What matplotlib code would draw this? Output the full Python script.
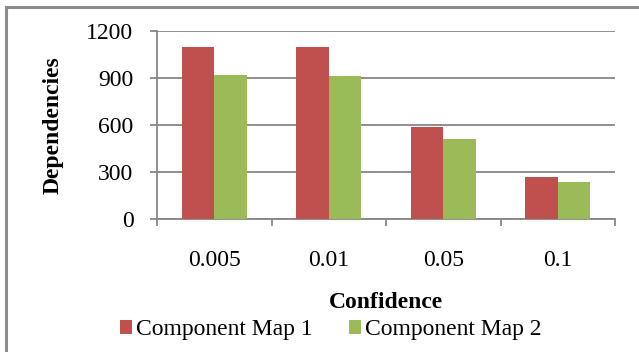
import matplotlib.pyplot as plt
import numpy as np
from matplotlib.patches import Rectangle

categories = ["0.005", "0.01", "0.05", "0.1"]
map1 = [1100, 1095, 585, 265]
map2 = [920, 915, 510, 235]
series_names = ["Component Map 1", "Component Map 2"]
colors = ["#C0504D", "#9BBB59"]

plt.rcParams['font.family'] = ['Liberation Serif', 'DejaVu Serif']

W, H = 639, 352
fig = plt.figure(figsize=(W / 100, H / 100), dpi=100)
ax = fig.add_axes([157 / W, 1 - 219 / H, (615 - 157) / W, (219 - 31) / H])

x = np.arange(len(categories))
bw = 1 / 3.5
b1 = ax.bar(x - bw / 2, map1, bw, color=colors[0], zorder=3, label=series_names[0])
b2 = ax.bar(x + bw / 2, map2, bw, color=colors[1], zorder=3, label=series_names[1])

grid_c = "#868686"
ax.set_xlim(-0.5, len(categories) - 0.5)
ax.set_ylim(0, 1200)
ax.set_yticks(range(0, 1201, 300))
ax.yaxis.grid(True, color=grid_c, linewidth=1.3, zorder=0)
for s in ["top", "right"]:
    ax.spines[s].set_visible(False)
for s in ["left", "bottom"]:
    ax.spines[s].set_color(grid_c)
    ax.spines[s].set_linewidth(1.3)

fs = 17
ax.set_xticks(x)
ax.set_xticklabels(categories)
ax.set_xticks(np.arange(-0.5, len(categories)), minor=True)
ax.tick_params(axis="x", which="major", length=0, pad=22, labelsize=fs)
ax.tick_params(axis="x", which="minor", length=5, width=1.3, color=grid_c, direction="out")
ax.tick_params(axis="y", length=5, width=1.3, color=grid_c, direction="out", labelsize=fs, pad=12)

fig.text(386 / W, 1 - 303 / H, "Confidence", ha="center", va="center",
         fontsize=fs, fontweight="bold")
fig.text(53 / W, 1 - 125 / H, "Dependencies", ha="center", va="center",
         rotation=90, fontsize=fs, fontweight="bold")

fig.legend(handles=[b1, b2], loc="center", bbox_to_anchor=(331 / W, 1 - 330 / H),
           ncol=2, frameon=False, fontsize=fs, handlelength=0.5, handleheight=0.5,
           handletextpad=0.17, columnspacing=1.55, borderpad=0)

# outer chart frame
fig.patches.append(Rectangle((5.5 / W, -0.1), 1.2, 1 - 7 / H + 0.1, transform=fig.transFigure,
                             fill=False, edgecolor="#8C8C8C", linewidth=2.2))

fig.savefig("out.png", dpi=100)
